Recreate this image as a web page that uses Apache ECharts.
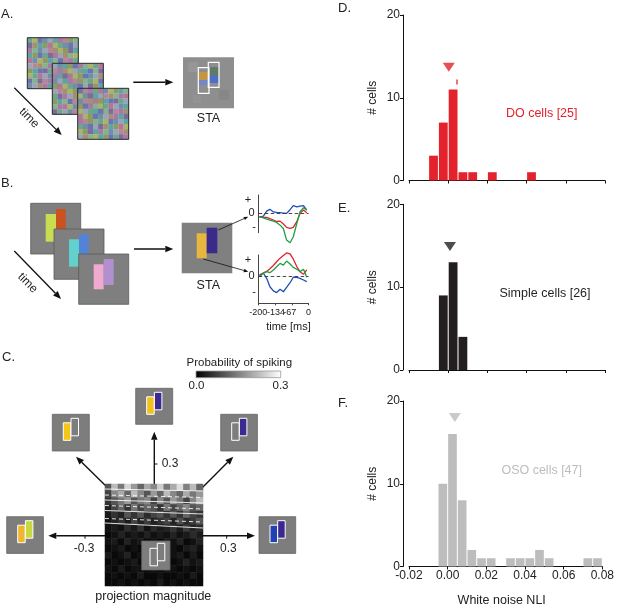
<!DOCTYPE html>
<html>
<head>
<meta charset="utf-8">
<script src="https://cdn.jsdelivr.net/npm/echarts@6.0.0/dist/echarts.min.js"></script>
<style>
  html, body { margin: 0; padding: 0; background: #fff; }
  #chart { width: 617px; height: 606px; }
</style>
</head>
<body>
<div id="chart"></div>
<script>
// ---- histogram data (bin start, counts), bin width 0.005 ----
const binW = 0.005;
const doBins = [-0.01, -0.005, 0, 0.005, 0.01, 0.02, 0.04];
const doCounts = [3, 7, 11, 1, 1, 1, 1];
const simpleBins = [-0.005, 0, 0.005];
const simpleCounts = [9, 13, 4];
const osoBins = [-0.005, 0, 0.005, 0.01, 0.015, 0.02, 0.03, 0.035, 0.04, 0.045, 0.05, 0.07, 0.075];
const osoCounts = [10, 16, 8, 2, 1, 1, 1, 1, 1, 2, 1, 1, 1];
const doMedian = [0.0003, 13.7];
const doMark = [0.0045, 11.9];
const simpleMedian = [0.0009, 14.9];
const osoMedian = [0.0037, 18.0];
const nliTicks = ['-0.02', '0.00', '0.02', '0.04', '0.06', '0.08'];

// ---- panel B time courses ----
const bTime = [-197, -181, -168, -155, -141, -128, -114, -101, -88, -74, -61, -47, -34, -20, -7];
const topBlue = [-0.2, -0.15, 0.12, 0.22, 0.08, 0.05, 0.04, 0.02, 0, 0.2, 0.42, 0.35, 0.4, 0.42, 0.18];
const topRed = [-0.18, -0.22, -0.22, -0.29, -0.36, -0.44, -0.42, -0.58, -0.76, -0.82, -0.76, -0.45, 0, 0.18, 0.04];
const topGreen = [-0.18, -0.25, -0.31, -0.36, -0.42, -0.49, -0.64, -0.82, -1.45, -1.6, -1.27, -0.55, 0.09, 0.31, 0.18];
const botRed = [0, 0.15, 0.22, 0.35, 0.5, 0.68, 0.85, 0.98, 1.1, 1.05, 0.8, 0.45, 0.2, 0.08, 0.29];
const botGreen = [-0.03, 0.13, 0.21, 0.16, 0.29, 0.44, 0.6, 0.52, 0.71, 0.57, 0.41, 0.32, 0.21, 0.32, -0.06];
const botBlue = [0.05, 0.13, -0.11, -0.51, -0.71, -0.79, -0.63, -0.75, -0.54, -0.32, -0.06, -0.06, -0.11, -0.19, -0.27];
const bTickLabels = ['-200', '-134', '-67', '0'];

// ---- panel C probability of spiking map (rows top -> bottom) ----
const heatRows = [
  [0.10, 0.22, 0.14, 0.25, 0.18, 0.12, 0.20, 0.16, 0.24, 0.14, 0.20, 0.26, 0.15, 0.22, 0.12],
  [0.08, 0.16, 0.20, 0.12, 0.22, 0.16, 0.10, 0.18, 0.12, 0.22, 0.16, 0.12, 0.20, 0.14, 0.18],
  [0.06, 0.10, 0.14, 0.18, 0.10, 0.14, 0.16, 0.08, 0.16, 0.10, 0.18, 0.14, 0.08, 0.16, 0.22],
  [0.04, 0.08, 0.12, 0.06, 0.14, 0.08, 0.12, 0.10, 0.06, 0.14, 0.08, 0.12, 0.16, 0.10, 0.12],
  [0.03, 0.06, 0.04, 0.10, 0.06, 0.10, 0.05, 0.08, 0.10, 0.06, 0.10, 0.06, 0.12, 0.08, 0.06],
  [0.02, 0.04, 0.06, 0.03, 0.08, 0.04, 0.07, 0.04, 0.06, 0.08, 0.04, 0.09, 0.05, 0.07, 0.10],
  [0.02, 0.03, 0.02, 0.05, 0.03, 0.06, 0.02, 0.05, 0.03, 0.04, 0.06, 0.03, 0.07, 0.04, 0.05],
  [0.01, 0.02, 0.04, 0.02, 0.03, 0.02, 0.04, 0.02, 0.03, 0.02, 0.04, 0.02, 0.03, 0.05, 0.03],
  [0.02, 0.03, 0.01, 0.04, 0.02, 0.03, 0.01, 0.02, 0.01, 0.03, 0.02, 0.04, 0.01, 0.02, 0.04],
  [0.01, 0.02, 0.03, 0.01, 0.02, 0.01, 0.02, 0.03, 0.02, 0.01, 0.02, 0.01, 0.03, 0.04, 0.02],
  [0.03, 0.01, 0.02, 0.04, 0.01, 0.02, 0.01, 0.01, 0.02, 0.01, 0.02, 0.03, 0.01, 0.03, 0.01],
  [0.01, 0.02, 0.01, 0.02, 0.03, 0.01, 0.02, 0.01, 0.01, 0.02, 0.01, 0.02, 0.04, 0.02, 0.03],
  [0.02, 0.01, 0.03, 0.01, 0.02, 0.02, 0.01, 0.02, 0.01, 0.03, 0.02, 0.01, 0.02, 0.01, 0.02],
  [0.01, 0.02, 0.01, 0.02, 0.01, 0.03, 0.01, 0.01, 0.02, 0.01, 0.01, 0.02, 0.01, 0.03, 0.01],
  [0.01, 0.01, 0.02, 0.01, 0.02, 0.01, 0.02, 0.01, 0.03, 0.01, 0.02, 0.01, 0.02, 0.01, 0.01]
];

// noise stimulus pattern for panel A (palette index per cell)
const noiseRows = [
  '3a518b2c07', '94b06a3158', '2718c4a09b', 'b05392847a', '61a0b75c23',
  '8c4726a19b', '0b59381c46', 'a3681b0527', '579c24a83b', '1842b96a05'
];
const noisePalette = ['#8d9a63', '#6f8fa8', '#a57aa5', '#6fa58a', '#a39070', '#6b74b0',
  '#b07896', '#86b38c', '#9aa4b8', '#7b6c9c', '#a9b46a', '#5fa3a3', '#b5869a'];

const FONT = 'Liberation Sans, Arial, Helvetica, sans-serif';
const RED = '#e3222b', BLACK = '#231f20', GREY = '#bdbdbd';

const chart = echarts.init(document.getElementById('chart'));

// ---- graphic helpers ----
function rect(x, y, w, h, fill, stroke, lw, z) {
  return { type: 'rect', z: z || 0, shape: { x: x, y: y, width: w, height: h },
    style: { fill: fill, stroke: stroke || null, lineWidth: lw || 0 } };
}
function text(x, y, str, size, opts) {
  opts = opts || {};
  return { type: 'text', x: x, y: y, rotation: opts.rot || 0, z: opts.z || 0,
    style: { text: str, fontSize: size, fontFamily: FONT, fill: opts.fill || '#222',
      align: opts.align || 'center', verticalAlign: 'middle' } };
}
function line(x1, y1, x2, y2, stroke, lw, dash, z) {
  return { type: 'line', z: z || 0, shape: { x1: x1, y1: y1, x2: x2, y2: y2 },
    style: { stroke: stroke, lineWidth: lw, lineDash: dash || null } };
}
function arrow(x1, y1, x2, y2, hl, hw, lw) {
  const a = Math.atan2(y2 - y1, x2 - x1);
  const bx = x2 - hl * Math.cos(a), by = y2 - hl * Math.sin(a);
  const px = -Math.sin(a) * hw / 2, py = Math.cos(a) * hw / 2;
  return [
    line(x1, y1, bx, by, '#111', lw),
    { type: 'polygon', shape: { points: [[x2, y2], [bx + px, by + py], [bx - px, by - py]] },
      style: { fill: '#111' } }
  ];
}
function noiseFrame(x0, y0, k) {
  const els = [];
  const cs = 5.1;
  for (let r = 0; r < 10; r++) {
    for (let c = 0; c < 10; c++) {
      const ch = noiseRows[(r + 7 * k) % 10][(c + 3 * k) % 10];
      els.push(rect(x0 + c * cs, y0 + r * cs, cs + 0.2, cs + 0.2, noisePalette[parseInt(ch, 16)]));
    }
  }
  els.push(rect(x0, y0, cs * 10, cs * 10, null, '#2a2a2a', 1));
  return els;
}
function thumb(x, y, w, h, lf, rf, off, z) {
  const o = off || { lx: 11, ly: 8.5, rx: 18.7, ry: 4 };
  return [
    rect(x, y, w, h, '#7d7d7d', '#666', 0.8, z),
    rect(x + o.lx, y + o.ly, 7.5, 17.5, lf || '#7d7d7d', '#fff', 1, z),
    rect(x + o.rx, y + o.ry, 7.5, 17.5, rf || '#7d7d7d', '#fff', 1, z)
  ];
}

let g = [];
// ---- panel A ----
g.push(text(1, 14, 'A.', 13, { align: 'left' }));
g = g.concat(noiseFrame(27.3, 37.7, 0), noiseFrame(52.3, 63.3, 1), noiseFrame(77.7, 88.3, 2));
g = g.concat(arrow(14.3, 87.7, 61.7, 135, 8, 6.5, 1.3));
g.push(text(29, 118, 'time', 12, { rot: -Math.PI / 4 }));
g = g.concat(arrow(133.3, 82.3, 173.3, 82.3, 8, 6.5, 1.5));
g.push(rect(183, 57.3, 51, 51, '#8e8e8e'));
g.push(rect(188, 62, 10, 10, '#969696'), rect(219, 90, 10, 10, '#878787'), rect(193, 95, 8, 8, '#939393'));
g.push(rect(198.3, 72, 10.5, 8, '#c29744'), rect(198.3, 80, 10.5, 5, '#7287c4'));
g.push(rect(208.5, 67, 10.5, 9, '#5f7a68'), rect(208.5, 76, 10.5, 7, '#4c6fcc'));
g.push(rect(198.3, 67.7, 10.7, 25.6, null, '#fff', 1.2), rect(208.3, 62.3, 10.7, 25, null, '#fff', 1.2));
g.push(text(208.5, 119, 'STA', 12.5));

// ---- panel B ----
g.push(text(1, 183, 'B.', 13, { align: 'left' }));
g.push(rect(30.7, 203.3, 50, 50.7, '#7f7f7f', '#5a5a5a', 0.8));
g.push(rect(45.7, 214, 10.3, 27.7, '#c9dc52'), rect(56, 209, 9.7, 27.7, '#c9521f'));
g.push(rect(54, 229, 50, 50.3, '#7f7f7f', '#5a5a5a', 0.8));
g.push(rect(69, 239.3, 10, 27.4, '#62d0cc'), rect(79, 234.3, 9.7, 27.4, '#5383d6'));
g.push(rect(78.7, 254, 50, 50.3, '#7f7f7f', '#5a5a5a', 0.8));
g.push(rect(93.7, 264.3, 10, 25, '#f1aacf'), rect(103.7, 259, 10, 26, '#b28fcf'));
g = g.concat(arrow(14.3, 251, 61, 299, 8, 6.5, 1.3));
g.push(text(27.5, 283, 'time', 12, { rot: -Math.PI / 4 }));
g = g.concat(arrow(134, 249, 173.3, 249, 8, 6.5, 1.5));
g.push(rect(181.7, 222.7, 50.6, 50.6, '#808080'));
g.push(rect(196.7, 233.3, 10, 25, '#e6b63f'), rect(206.7, 227.7, 10.6, 25.6, '#3b2a8c'));
g.push(text(208.3, 286, 'STA', 12.5));
g = g.concat(arrow(218.3, 230, 248.3, 216.7, 4.5, 3.5, 0.8), arrow(203.3, 259, 248.3, 271.7, 4.5, 3.5, 0.8));
g.push(text(248, 200, '+', 11), text(251.5, 213.3, '0', 11), text(254, 227, '-', 11));
g.push(text(248, 260, '+', 11), text(251.5, 276.3, '0', 11), text(254, 291.5, '-', 11));
// time tick labels (they touch each other, as in the figure)
const bLabelX = [258.3, 276, 289.7, 308.5];
bTickLabels.forEach(function (s, i) { g.push(text(bLabelX[i], 312.8, s, 9)); });
g.push(text(288.5, 327, 'time [ms]', 11));

// ---- panel C ----
g.push(text(2, 357, 'C.', 13, { align: 'left' }));
g.push(text(239.3, 363.3, 'Probability of spiking', 11.5));
g.push({ type: 'rect', shape: { x: 196, y: 371, width: 84.7, height: 6.7 },
  style: { stroke: '#999', lineWidth: 0.8,
    fill: new echarts.graphic.LinearGradient(0, 0, 1, 0, [{ offset: 0, color: '#000' }, { offset: 1, color: '#fff' }]) } });
g.push(text(196.5, 385.5, '0.0', 11.5), text(280.5, 385.5, '0.3', 11.5));
g = g.concat(arrow(154.3, 484.3, 154.3, 431.7, 8, 6.5, 1.4));
g = g.concat(arrow(105, 535.7, 48.3, 535.7, 8, 6.5, 1.4));
g = g.concat(arrow(203, 535.7, 255, 535.7, 8, 6.5, 1.4));
g = g.concat(arrow(106.7, 486.7, 76, 456.7, 8, 6.5, 1.4));
g = g.concat(arrow(201.7, 488.3, 233.3, 456.7, 8, 6.5, 1.4));
g.push(line(154.3, 464, 157.5, 464, '#111', 1), text(170, 464, '0.3', 12));
g.push(line(85, 535.7, 85, 538.7, '#111', 1), text(84, 548.5, '-0.3', 12));
g.push(line(226.7, 535.7, 226.7, 538.7, '#111', 1), text(228.3, 548.5, '0.3', 12));
g = g.concat(thumb(135.7, 388.3, 37, 36, '#f0c21e', '#3c2a90'));
g = g.concat(thumb(52.3, 414.3, 37, 36.7, '#f5c518', null));
g = g.concat(thumb(220.7, 414.3, 36.7, 36.7, null, '#3c2a90'));
g = g.concat(thumb(6.7, 516.7, 36.7, 36.7, '#f0b62e', '#c8d840'));
g = g.concat(thumb(259, 516.7, 36.7, 36.7, '#2141b6', '#3a2890'));
g = g.concat(thumb(141.7, 541, 28.3, 29, null, null, { lx: 8.3, ly: 7.3, rx: 15.6, ry: 2.3 }, 10));
// contour lines over the map
const wl = 'rgba(255,255,255,0.85)';
g.push(line(105, 489, 203, 491, wl, 1, null, 10), line(105, 495, 203, 497.5, wl, 1, [4, 3], 10));
g.push(line(105, 500, 203, 503, wl, 1, null, 10), line(105, 505.5, 203, 509, wl, 1, [4, 3], 10));
g.push(line(105, 510.5, 203, 514, wl, 1, null, 10), line(105, 518.5, 203, 522, wl, 1, [4, 3], 10));
g.push(line(105, 523, 203, 528, wl, 1, null, 10));
g.push(text(153.3, 597, 'projection magnitude', 12.5));

// ---- panels D-F labels ----
g.push(text(338, 8, 'D.', 13, { align: 'left' }), text(338, 208, 'E.', 13, { align: 'left' }), text(338, 403, 'F.', 13, { align: 'left' }));
g.push(text(541.7, 113.3, 'DO cells [25]', 12.5, { fill: RED }));
g.push(text(545, 294, 'Simple cells [26]', 12.5, { fill: BLACK }));
g.push(text(541.7, 471, 'OSO cells [47]', 12.5, { fill: GREY }));
g.push(text(501.7, 600.5, 'White noise NLI', 12.5));

// ---- axes ----
const histGrids = [
  { left: 409, top: 15, width: 196, height: 165.5 },
  { left: 409, top: 204.3, width: 196, height: 165.7 },
  { left: 409, top: 401, width: 196, height: 165.5 }
];
const grids = histGrids.concat([
  { left: 258.7, top: 195, width: 49.8, height: 37.7 },
  { left: 258.7, top: 255, width: 49.8, height: 48.3 },
  { left: 105, top: 484, width: 98, height: 102 }
]);
const axLine = { show: true, onZero: false, lineStyle: { color: '#111', width: 1 } };
const xAxes = [], yAxes = [];
histGrids.forEach(function (gr, i) {
  xAxes.push({ gridIndex: i, type: 'value', min: -0.02, max: 0.08, interval: 0.02,
    axisLine: axLine, axisTick: { show: true, length: 3, lineStyle: { color: '#111' } },
    splitLine: { show: false },
    axisLabel: { show: i === 2, margin: 3, fontSize: 12, color: '#222', fontFamily: FONT, hideOverlap: false,
      formatter: function (v) { return nliTicks[Math.round((v + 0.02) / 0.02)]; } } });
  yAxes.push({ gridIndex: i, type: 'value', min: 0, max: 20, interval: 10, offset: 6,
    axisLine: axLine, axisTick: { show: true, length: 3, lineStyle: { color: '#111' } },
    splitLine: { show: false },
    axisLabel: { margin: 3, fontSize: 12, color: '#222', fontFamily: FONT },
    name: '# cells', nameLocation: 'middle', nameGap: 24,
    nameTextStyle: { fontSize: 12, color: '#222', fontFamily: FONT } });
});
const bAxLine = { show: true, onZero: false, lineStyle: { color: '#444', width: 1 } };
xAxes.push({ gridIndex: 3, type: 'value', min: -200, max: 0, show: false });
yAxes.push({ gridIndex: 3, type: 'value', min: -1.05, max: 1, axisLine: bAxLine,
  axisTick: { show: false }, axisLabel: { show: false }, splitLine: { show: false } });
xAxes.push({ gridIndex: 4, type: 'value', min: -200, max: 0, interval: 200 / 3,
  axisLine: bAxLine, axisTick: { show: true, length: 2, lineStyle: { color: '#444' } },
  splitLine: { show: false }, axisLabel: { show: false } });
yAxes.push({ gridIndex: 4, type: 'value', min: -1.3, max: 1, axisLine: bAxLine,
  axisTick: { show: false }, axisLabel: { show: false }, splitLine: { show: false } });
xAxes.push({ gridIndex: 5, type: 'category', show: false, data: heatRows[0].map(function (v, i) { return i; }) });
yAxes.push({ gridIndex: 5, type: 'category', show: false, inverse: true, data: heatRows.map(function (v, i) { return i; }) });

// ---- series ----
function histSeries(idx, bins, counts, color) {
  return { type: 'custom', xAxisIndex: idx, yAxisIndex: idx,
    data: bins.map(function (b, i) { return [b, counts[i]]; }),
    renderItem: function (params, api) {
      const p0 = api.coord([api.value(0), api.value(1)]);
      const p1 = api.coord([api.value(0) + binW, 0]);
      return { type: 'rect', shape: { x: p0[0] + 0.5, y: p0[1], width: p1[0] - p0[0] - 1, height: p1[1] - p0[1] },
        style: { fill: color } };
    } };
}
function medianSeries(idx, pt, color) {
  return { type: 'scatter', xAxisIndex: idx, yAxisIndex: idx, data: [pt], symbol: 'triangle',
    symbolRotate: 180, symbolSize: [12, 9], itemStyle: { color: color }, silent: true };
}
function tc(idx, vals, color) {
  return { type: 'line', xAxisIndex: idx, yAxisIndex: idx, symbol: 'none', showSymbol: false, clip: false,
    data: bTime.map(function (t, i) { return [t, vals[i]]; }),
    lineStyle: { color: color, width: 1.3 }, itemStyle: { color: color } };
}
const zeroLine = { silent: true, symbol: 'none', label: { show: false },
  lineStyle: { color: '#333', width: 0.9, type: [3.5, 2.5] }, data: [{ yAxis: 0 }] };

const heatData = [];
heatRows.forEach(function (row, r) { row.forEach(function (v, c) { heatData.push([c, r, v]); }); });

const series = [
  histSeries(0, doBins, doCounts, RED),
  medianSeries(0, doMedian, RED),
  { type: 'scatter', xAxisIndex: 0, yAxisIndex: 0, data: [doMark], symbol: 'rect', symbolSize: [1.6, 5],
    itemStyle: { color: RED }, silent: true },
  histSeries(1, simpleBins, simpleCounts, BLACK),
  medianSeries(1, simpleMedian, BLACK),
  histSeries(2, osoBins, osoCounts, GREY),
  medianSeries(2, osoMedian, GREY),
  Object.assign(tc(3, topBlue, '#1f4fb5'), { markLine: zeroLine }),
  tc(3, topRed, '#e3222b'),
  tc(3, topGreen, '#1f9e45'),
  Object.assign(tc(4, botBlue, '#1f4fb5'), { markLine: zeroLine }),
  tc(4, botRed, '#e3222b'),
  tc(4, botGreen, '#1f9e45'),
  { type: 'heatmap', xAxisIndex: 5, yAxisIndex: 5, data: heatData, silent: true }
];

chart.setOption({
  animation: false,
  grid: grids,
  xAxis: xAxes,
  yAxis: yAxes,
  visualMap: { show: false, type: 'continuous', min: 0, max: 0.3, seriesIndex: series.length - 1,
    inRange: { color: ['#000000', '#ffffff'] } },
  series: series,
  graphic: { elements: g }
});
</script>
</body>
</html>
